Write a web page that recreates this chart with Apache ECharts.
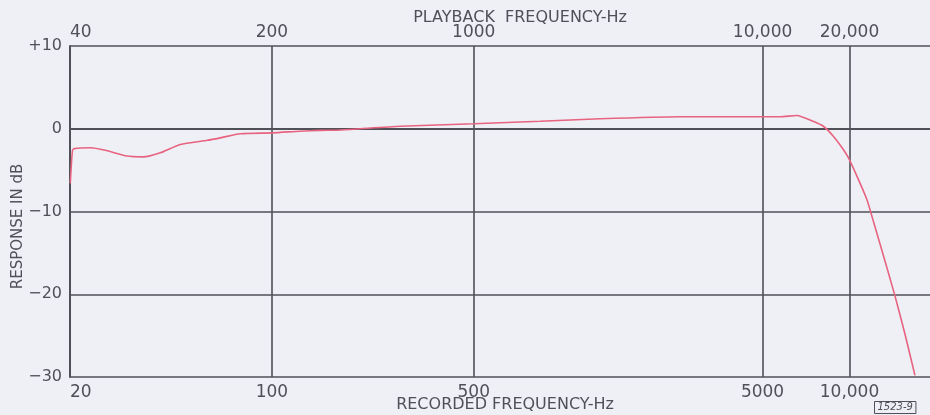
<!DOCTYPE html>
<html>
<head>
<meta charset="utf-8">
<script src="https://cdn.jsdelivr.net/npm/echarts@6/dist/echarts.min.js"></script>
<style>
  html, body { margin: 0; padding: 0; background: #eef0f6; }
  #chart { width: 930px; height: 415px; }
</style>
</head>
<body>
<div id="chart"></div>
<script>
// Frequency response: recorded frequency (Hz) vs response (dB)
const recordedHz = [20.05, 20.4, 20.7, 23.5, 26.5, 31.5, 35.9, 41.1, 48.2, 59.8, 66.3, 77.8, 100, 125, 147, 173, 278, 500, 849, 1370, 2590, 5000, 5750, 6570, 7480, 8120, 8790, 9520, 9910, 10600, 11470, 11940, 12750, 14370, 15560, 16850];
const responseDb = [-6.6, -2.6, -2.4, -2.3, -2.6, -3.3, -3.4, -2.9, -1.9, -1.4, -1.1, -0.6, -0.5, -0.3, -0.2, -0.15, 0.3, 0.6, 0.9, 1.2, 1.45, 1.45, 1.45, 1.6, 0.9, 0.3, -0.9, -2.5, -3.5, -5.7, -8.5, -10.5, -13.9, -20.2, -24.8, -29.8];

// Labelled ticks
const recordedTicks = [20, 100, 500, 5000, 10000];
const playbackTicks = [40, 200, 1000, 10000, 20000];

const INK = '#4f5058';
const FONT = 'DejaVu Sans';

function freqLabel(v) {
  return v >= 10000 ? v.toLocaleString('en-US') : String(v);
}
function dbLabel(v) {
  if (v > 0) return '+' + v;
  if (v < 0) return '\u2212' + Math.abs(v);
  return '0';
}

const chart = echarts.init(document.getElementById('chart'));
chart.setOption({
  backgroundColor: '#eef0f6',
  animation: false,
  grid: { left: 70, right: 0, top: 46, bottom: 38, containLabel: false, outerBoundsMode: 'none' },
  xAxis: [
    {
      type: 'log', logBase: 10, min: 20, max: 19000, position: 'bottom',
      name: 'RECORDED FREQUENCY-Hz', nameLocation: 'middle', nameGap: 20, nameMoveOverlap: false,
      nameTextStyle: { color: INK, fontFamily: FONT, fontSize: 16, padding: [0, 0, 0, 10] },
      axisLine: { show: true, lineStyle: { color: INK, width: 2 } },
      axisTick: { show: false, customValues: recordedTicks },
      axisLabel: { customValues: recordedTicks, formatter: freqLabel, color: INK, fontFamily: FONT, fontSize: 17, margin: 7, alignMinLabel: 'left' },
      splitLine: { show: true, lineStyle: { color: INK, width: 1.6 } }
    },
    {
      type: 'log', logBase: 10, min: 40, max: 38000, position: 'top',
      name: 'PLAYBACK  FREQUENCY-Hz', nameLocation: 'middle', nameGap: 20, nameMoveOverlap: false,
      nameTextStyle: { color: INK, fontFamily: FONT, fontSize: 16, padding: [0, 0, 0, 40] },
      axisLine: { show: false },
      axisTick: { show: false, customValues: playbackTicks },
      axisLabel: { customValues: playbackTicks, formatter: freqLabel, color: INK, fontFamily: FONT, fontSize: 17, margin: 5, alignMinLabel: 'left' },
      splitLine: { show: false }
    }
  ],
  yAxis: {
    type: 'value', min: -30, max: 10, interval: 10,
    name: 'RESPONSE IN dB', nameLocation: 'middle', nameGap: 44, nameMoveOverlap: false,
    nameTextStyle: { color: INK, fontFamily: FONT, fontSize: 15, padding: [0, 30, 0, 0] },
    axisLine: { show: true, lineStyle: { color: INK, width: 2 } },
    axisTick: { show: false },
    axisLabel: { formatter: dbLabel, color: INK, fontFamily: FONT, fontSize: 16, margin: 8 },
    splitLine: { show: true, lineStyle: { color: INK, width: 1.6 } }
  },
  series: [{
    type: 'line',
    xAxisIndex: 0,
    data: recordedHz.map((f, i) => [f, responseDb[i]]),
    showSymbol: false,
    smooth: 0.2,
    lineStyle: { color: '#e8637f', width: 1.6 },
    clip: true
  }],
  graphic: [{
    type: 'text', left: 874, top: 401,
    style: {
      text: '1523-9', fill: INK, font: 'italic 10px "DejaVu Sans"',
      borderColor: INK, borderWidth: 1, padding: [1, 3]
    }
  }]
});
</script>
</body>
</html>
